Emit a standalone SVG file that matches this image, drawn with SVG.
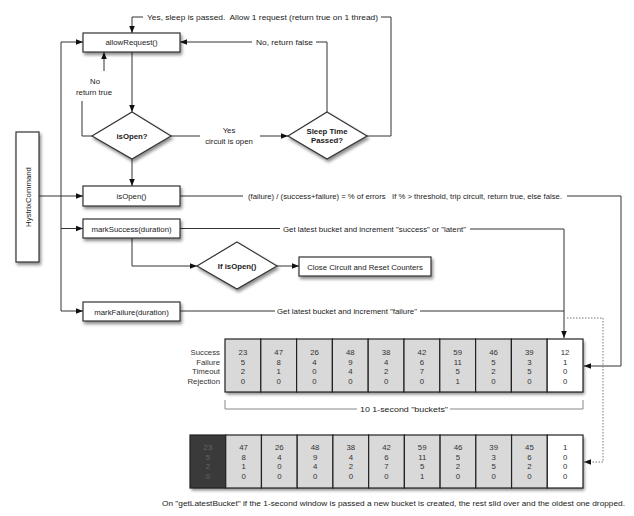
<svg xmlns="http://www.w3.org/2000/svg" width="634" height="516" viewBox="0 0 634 516">
<defs>
<filter id="sh" x="-20%" y="-20%" width="150%" height="160%">
<feDropShadow dx="1.5" dy="2.5" stdDeviation="1.5" flood-color="#000" flood-opacity="0.45"/>
</filter>
<marker id="a" viewBox="0 0 10 10" refX="10" refY="5" markerWidth="7" markerHeight="7" orient="auto" markerUnits="userSpaceOnUse">
<path d="M0,1 L10,5 L0,9 z" fill="#111"/>
</marker>
</defs>
<style>
text{font-family:"Liberation Sans",Arial,sans-serif;fill:#1a1a1a}
.box{fill:#fff;stroke:#333;stroke-width:1.2}
.dia{fill:#fff;stroke:#333;stroke-width:1.2}
.lbl{font-size:7.8px;text-anchor:middle}
.b{font-size:7.8px;font-weight:bold;text-anchor:middle}
.t{font-size:7.8px;white-space:pre}
.c{fill:none;stroke:#333;stroke-width:1}
.ar{marker-end:url(#a)}
.dot{fill:none;stroke:#777;stroke-width:1;stroke-dasharray:1.5,1.5}
.br{fill:none;stroke:#888;stroke-width:1}
.cell{fill:#d9d9d9;stroke:#222;stroke-width:1.2}
.cw{fill:#fff;stroke:#222;stroke-width:1.2}
.cd{fill:#3a3a3a;stroke:#222;stroke-width:1.2}
.n{font-size:7.8px;text-anchor:middle;fill:#333}
.nd{font-size:7.8px;text-anchor:middle;fill:#666}
.rl{font-size:7.8px;text-anchor:end;fill:#333}
</style>

<g id="connectors">
<path class="c" d="M367,136 H391 V17 H381"/>
<path class="c ar" d="M143,17 H132 V33"/>
<path class="c" d="M327,112 V42 H316"/>
<path class="c ar" d="M252,42 H180"/>
<path class="c ar" d="M132,52 V112"/>
<path class="c" d="M92,136 H82 V101"/>
<path class="c ar" d="M104,71 V52"/>
<path class="c" d="M171,136 H200"/>
<path class="c ar" d="M260,136 H288"/>
<path class="c ar" d="M132,159 V186"/>
<path class="c ar" d="M39,196 H83"/>
<path class="c ar" d="M61,311 V42 H83"/>
<path class="c ar" d="M61,228.5 H83"/>
<path class="c ar" d="M61,311 H83"/>
<path class="c ar" d="M132,238 V266 H197"/>
<path class="c ar" d="M277,266 H299"/>
<path class="c" d="M180,196 H243"/>
<path class="c ar" d="M567,196 H621 V366 H584"/>
<path class="c" d="M180,228.5 H280"/>
<path class="c ar" d="M470,229 H564 V338"/>
<path class="c" d="M180,311 H275"/>
<path class="c" d="M420,311 H564"/>
<path class="dot ar" d="M567,318 H603 V462 H584"/>
<path class="br" d="M225,400 V409 H357"/>
<path class="br" d="M450,409 H583 V400"/>
<text class="t" x="147" y="20" textLength="231" lengthAdjust="spacingAndGlyphs">Yes, sleep is passed.  Allow 1 request (return true on 1 thread)</text>
<text class="t" x="256" y="45" textLength="57" lengthAdjust="spacingAndGlyphs">No, return false</text>
<text class="lbl" x="95" y="84">No</text>
<text class="lbl" x="94" y="95">return true</text>
<text class="lbl" x="229" y="133">Yes</text>
<text class="lbl" x="229" y="144">circuit is open</text>
<text class="t" x="248" y="199" textLength="314" lengthAdjust="spacingAndGlyphs">(failure) / (success+failure) = % of errors   If % &gt; threshold, trip circuit, return true, else false.</text>
<text class="t" x="283" y="231.5" textLength="183" lengthAdjust="spacingAndGlyphs">Get latest bucket and increment "success" or "latent"</text>
<text class="t" x="277" y="314" textLength="140" lengthAdjust="spacingAndGlyphs">Get latest bucket and increment "failure"</text>
<text class="t" x="360" y="412" textLength="88" lengthAdjust="spacingAndGlyphs">10 1-second "buckets"</text>
<text class="t" x="162" y="506" textLength="463" lengthAdjust="spacingAndGlyphs">On "getLatestBucket" if the 1-second window is passed a new bucket is created, the rest slid over and the oldest one dropped.</text>
</g>

<g id="hystrix">
<rect class="box" x="16" y="132" width="23" height="130" filter="url(#sh)"/>
<text class="lbl" x="28" y="200" transform="rotate(-90 28 197)">HystrixCommand</text>
</g>
<g id="allowRequest">
<rect class="box" x="83" y="33" width="97" height="19" filter="url(#sh)"/>
<text class="lbl" x="131.5" y="45">allowRequest()</text>
</g>
<g id="isOpenQ">
<path class="dia" d="M132,112 L171,136 L132,159 L92,136 Z" filter="url(#sh)"/>
<text class="b" x="132" y="139">isOpen?</text>
</g>
<g id="sleep">
<path class="dia" d="M327,112 L367,136 L327,159 L288,136 Z" filter="url(#sh)"/>
<text class="b" x="327" y="134">Sleep Time</text>
<text class="b" x="327" y="143">Passed?</text>
</g>
<g id="isOpen">
<rect class="box" x="83" y="186" width="97" height="20" filter="url(#sh)"/>
<text class="lbl" x="131.5" y="199">isOpen()</text>
</g>
<g id="markSuccess">
<rect class="box" x="83" y="219" width="97" height="19" filter="url(#sh)"/>
<text class="lbl" x="131.5" y="231.5">markSuccess(duration)</text>
</g>
<g id="ifIsOpen">
<path class="dia" d="M237,242 L277,266 L237,289 L197,266 Z" filter="url(#sh)"/>
<text class="b" x="237" y="269">If isOpen()</text>
</g>
<g id="closeCircuit">
<rect class="box" x="299" y="257" width="132" height="19" filter="url(#sh)"/>
<text class="lbl" x="365" y="269.5">Close Circuit and Reset Counters</text>
</g>
<g id="markFailure">
<rect class="box" x="83" y="302" width="97" height="19" filter="url(#sh)"/>
<text class="lbl" x="131.5" y="314.5">markFailure(duration)</text>
</g>

<g id="buckets1">
<rect x="225" y="339" width="358" height="53" fill="#d9d9d9" filter="url(#sh)"/>
<g>
<rect class="cell" x="225" y="339" width="35.8" height="53"/>
<rect class="cell" x="260.8" y="339" width="35.8" height="53"/>
<rect class="cell" x="296.6" y="339" width="35.8" height="53"/>
<rect class="cell" x="332.4" y="339" width="35.8" height="53"/>
<rect class="cell" x="368.2" y="339" width="35.8" height="53"/>
<rect class="cell" x="404" y="339" width="35.8" height="53"/>
<rect class="cell" x="439.8" y="339" width="35.8" height="53"/>
<rect class="cell" x="475.6" y="339" width="35.8" height="53"/>
<rect class="cell" x="511.4" y="339" width="35.8" height="53"/>
<rect class="cw" x="547.2" y="339" width="35.8" height="53"/>
</g>
<text class="rl" x="220" y="355">Success</text>
<text class="rl" x="220" y="364.5">Failure</text>
<text class="rl" x="220" y="374">Timeout</text>
<text class="rl" x="220" y="383.5">Rejection</text>
<g>
<text class="n" x="242.9" y="355">23</text><text class="n" x="242.9" y="364.5">5</text><text class="n" x="242.9" y="374">2</text><text class="n" x="242.9" y="383.5">0</text>
<text class="n" x="278.7" y="355">47</text><text class="n" x="278.7" y="364.5">8</text><text class="n" x="278.7" y="374">1</text><text class="n" x="278.7" y="383.5">0</text>
<text class="n" x="314.5" y="355">26</text><text class="n" x="314.5" y="364.5">4</text><text class="n" x="314.5" y="374">0</text><text class="n" x="314.5" y="383.5">0</text>
<text class="n" x="350.3" y="355">48</text><text class="n" x="350.3" y="364.5">9</text><text class="n" x="350.3" y="374">4</text><text class="n" x="350.3" y="383.5">0</text>
<text class="n" x="386.1" y="355">38</text><text class="n" x="386.1" y="364.5">4</text><text class="n" x="386.1" y="374">2</text><text class="n" x="386.1" y="383.5">0</text>
<text class="n" x="421.9" y="355">42</text><text class="n" x="421.9" y="364.5">6</text><text class="n" x="421.9" y="374">7</text><text class="n" x="421.9" y="383.5">0</text>
<text class="n" x="457.7" y="355">59</text><text class="n" x="457.7" y="364.5">11</text><text class="n" x="457.7" y="374">5</text><text class="n" x="457.7" y="383.5">1</text>
<text class="n" x="493.5" y="355">46</text><text class="n" x="493.5" y="364.5">5</text><text class="n" x="493.5" y="374">2</text><text class="n" x="493.5" y="383.5">0</text>
<text class="n" x="529.3" y="355">39</text><text class="n" x="529.3" y="364.5">3</text><text class="n" x="529.3" y="374">5</text><text class="n" x="529.3" y="383.5">0</text>
<text class="n" x="565.1" y="355">12</text><text class="n" x="565.1" y="364.5">1</text><text class="n" x="565.1" y="374">0</text><text class="n" x="565.1" y="383.5">0</text>
</g>
</g>

<g id="buckets2">
<rect x="190" y="435" width="393" height="53" fill="#d9d9d9" filter="url(#sh)"/>
<g>
<rect class="cd" x="190" y="435" width="35.73" height="53"/>
<rect class="cell" x="225.73" y="435" width="35.73" height="53"/>
<rect class="cell" x="261.46" y="435" width="35.73" height="53"/>
<rect class="cell" x="297.19" y="435" width="35.73" height="53"/>
<rect class="cell" x="332.92" y="435" width="35.73" height="53"/>
<rect class="cell" x="368.65" y="435" width="35.73" height="53"/>
<rect class="cell" x="404.38" y="435" width="35.73" height="53"/>
<rect class="cell" x="440.11" y="435" width="35.73" height="53"/>
<rect class="cell" x="475.84" y="435" width="35.73" height="53"/>
<rect class="cell" x="511.57" y="435" width="35.73" height="53"/>
<rect class="cw" x="547.3" y="435" width="35.7" height="53"/>
</g>
<g>
<text class="nd" x="207.9" y="450">23</text><text class="nd" x="207.9" y="459.5">5</text><text class="nd" x="207.9" y="469">2</text><text class="nd" x="207.9" y="478.5">0</text>
<text class="n" x="243.6" y="450">47</text><text class="n" x="243.6" y="459.5">8</text><text class="n" x="243.6" y="469">1</text><text class="n" x="243.6" y="478.5">0</text>
<text class="n" x="279.3" y="450">26</text><text class="n" x="279.3" y="459.5">4</text><text class="n" x="279.3" y="469">0</text><text class="n" x="279.3" y="478.5">0</text>
<text class="n" x="315.1" y="450">48</text><text class="n" x="315.1" y="459.5">9</text><text class="n" x="315.1" y="469">4</text><text class="n" x="315.1" y="478.5">0</text>
<text class="n" x="350.8" y="450">38</text><text class="n" x="350.8" y="459.5">4</text><text class="n" x="350.8" y="469">2</text><text class="n" x="350.8" y="478.5">0</text>
<text class="n" x="386.5" y="450">42</text><text class="n" x="386.5" y="459.5">6</text><text class="n" x="386.5" y="469">7</text><text class="n" x="386.5" y="478.5">0</text>
<text class="n" x="422.2" y="450">59</text><text class="n" x="422.2" y="459.5">11</text><text class="n" x="422.2" y="469">5</text><text class="n" x="422.2" y="478.5">1</text>
<text class="n" x="458" y="450">46</text><text class="n" x="458" y="459.5">5</text><text class="n" x="458" y="469">2</text><text class="n" x="458" y="478.5">0</text>
<text class="n" x="493.7" y="450">39</text><text class="n" x="493.7" y="459.5">3</text><text class="n" x="493.7" y="469">5</text><text class="n" x="493.7" y="478.5">0</text>
<text class="n" x="529.4" y="450">45</text><text class="n" x="529.4" y="459.5">6</text><text class="n" x="529.4" y="469">2</text><text class="n" x="529.4" y="478.5">0</text>
<text class="n" x="565.1" y="450">1</text><text class="n" x="565.1" y="459.5">0</text><text class="n" x="565.1" y="469">0</text><text class="n" x="565.1" y="478.5">0</text>
</g>
</g>
</svg>
